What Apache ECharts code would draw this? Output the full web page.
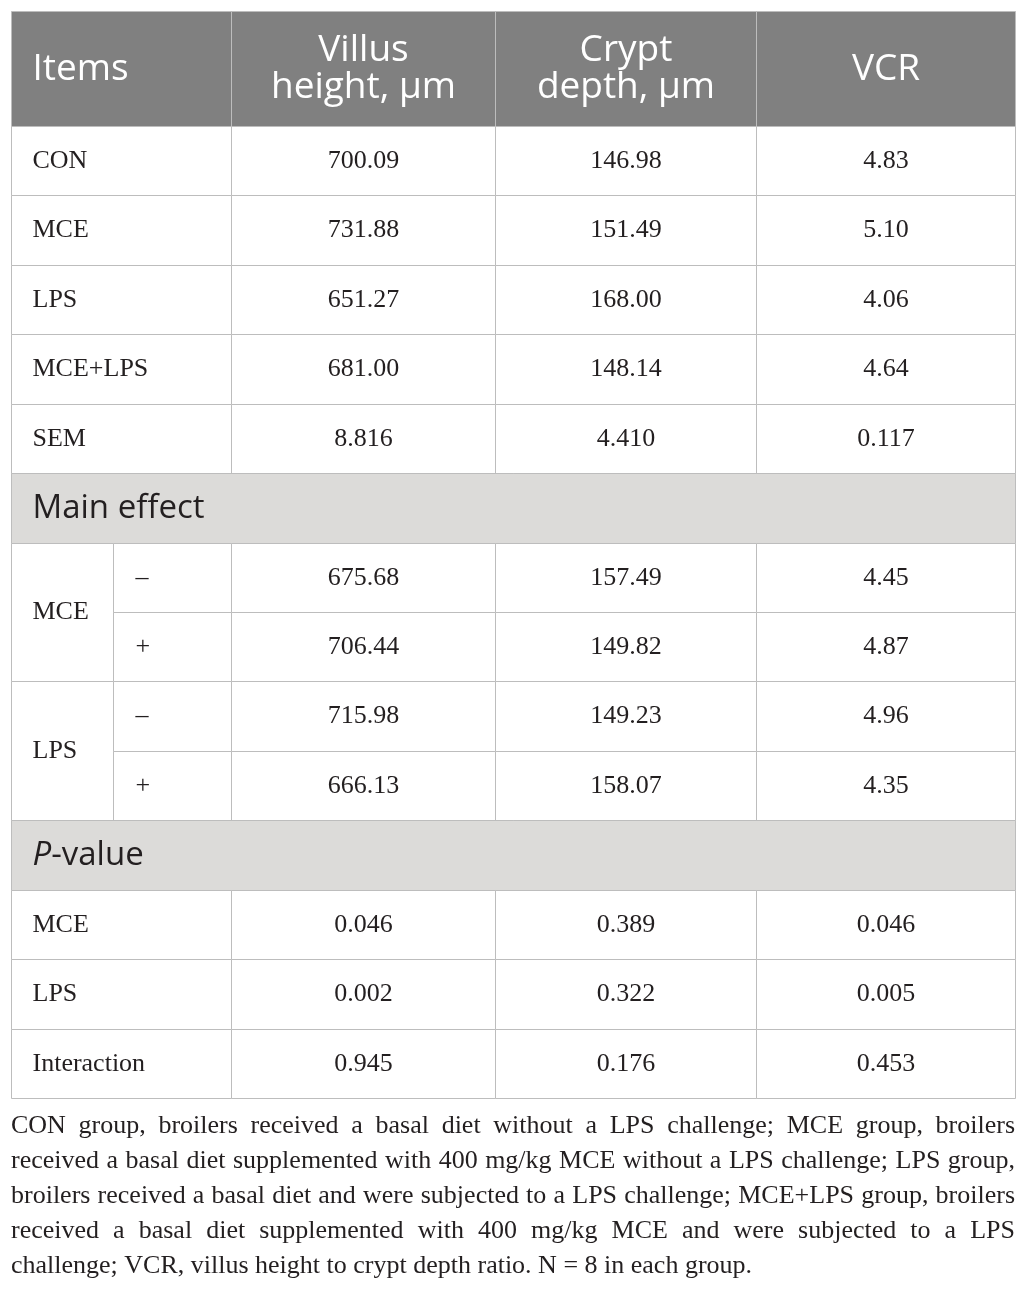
<!DOCTYPE html>
<html>
<head>
<meta charset="utf-8">
<script src="https://cdn.jsdelivr.net/npm/echarts@6/dist/echarts.min.js"></script>
<style>
  html, body { margin: 0; padding: 0; background: #fff; }
  #main { width: 1026px; height: 1293px; }
</style>
</head>
<body>
<div id="main"></div>
<script>
// table values, kept as printed (strings keep trailing zeros)
var headers = ['Items', 'Villus\nheight, μm', 'Crypt\ndepth, μm', 'VCR'];
var groups = ['CON', 'MCE', 'LPS', 'MCE+LPS', 'SEM'];
var villusHeight = ['700.09', '731.88', '651.27', '681.00', '8.816'];
var cryptDepth = ['146.98', '151.49', '168.00', '148.14', '4.410'];
var vcr = ['4.83', '5.10', '4.06', '4.64', '0.117'];

var mainFactors = ['MCE', 'LPS'];
var levels = ['–', '+'];
var mainVillus = ['675.68', '706.44', '715.98', '666.13'];
var mainCrypt = ['157.49', '149.82', '149.23', '158.07'];
var mainVcr = ['4.45', '4.87', '4.96', '4.35'];

var pItems = ['MCE', 'LPS', 'Interaction'];
var pVillus = ['0.046', '0.002', '0.945'];
var pCrypt = ['0.389', '0.322', '0.176'];
var pVcr = ['0.046', '0.005', '0.453'];

var sections = ['Main effect', '{i|P}-value'];

var footnote = [
    'CON group, broilers received a basal diet without a LPS challenge; MCE group, broilers',
    'received a basal diet supplemented with 400 mg/kg MCE without a LPS challenge; LPS group,',
    'broilers received a basal diet and were subjected to a LPS challenge; MCE+LPS group, broilers',
    'received a basal diet supplemented with 400 mg/kg MCE and were subjected to a LPS',
    'challenge; VCR, villus height to crypt depth ratio. N = 8 in each group.'
];

// layout of the table in axis units (pixels of the grid)
var tableW = 1004, tableH = 1087, headH = 115, nRows = 14;
var rowH = (tableH - headH) / nRows;
var colEdges = [0, 220, 484, 745, 1004];
var subEdge = 102;

function rowTop(i) { return headH + i * rowH; }

var cells = [];
function addCell(x0, y0, x1, y1, text, kind, align, pad) {
    cells.push({ box: [x0, y0, x1, y1], text: text, kind: kind, align: align || 'center', pad: pad || 0 });
}

headers.forEach(function (h, c) {
    addCell(colEdges[c], 0, colEdges[c + 1], headH, h, 'head', c === 0 ? 'left' : 'center', 21);
});

var valueCols = [villusHeight, cryptDepth, vcr];
groups.forEach(function (g, r) {
    addCell(colEdges[0], rowTop(r), colEdges[1], rowTop(r + 1), g, 'body', 'left', 21);
    valueCols.forEach(function (arr, c) {
        addCell(colEdges[c + 1], rowTop(r), colEdges[c + 2], rowTop(r + 1), arr[r], 'body');
    });
});

addCell(0, rowTop(5), tableW, rowTop(6), sections[0], 'section', 'left', 21);

var mainCols = [mainVillus, mainCrypt, mainVcr];
mainFactors.forEach(function (f, fi) {
    var r0 = 6 + fi * 2;
    addCell(colEdges[0], rowTop(r0), subEdge, rowTop(r0 + 2), f, 'body', 'left', 21);
    levels.forEach(function (lv, li) {
        var r = r0 + li, k = fi * 2 + li;
        addCell(subEdge, rowTop(r), colEdges[1], rowTop(r + 1), lv, 'body', 'left', 22);
        mainCols.forEach(function (arr, c) {
            addCell(colEdges[c + 1], rowTop(r), colEdges[c + 2], rowTop(r + 1), arr[k], 'body');
        });
    });
});

addCell(0, rowTop(10), tableW, rowTop(11), sections[1], 'section', 'left', 21);

var pCols = [pVillus, pCrypt, pVcr];
pItems.forEach(function (p, i) {
    var r = 11 + i;
    addCell(colEdges[0], rowTop(r), colEdges[1], rowTop(r + 1), p, 'body', 'left', 21);
    pCols.forEach(function (arr, c) {
        addCell(colEdges[c + 1], rowTop(r), colEdges[c + 2], rowTop(r + 1), arr[i], 'body');
    });
});

var styles = {
    head: { fill: '#808080', color: '#ffffff', font: '37px "Open Sans"', lineHeight: 37 },
    section: { fill: '#dcdbd9', color: '#231f20', font: '33px "Open Sans"', lineHeight: 38 },
    body: { fill: '#ffffff', color: '#231f20', font: '26px "Liberation Serif"', lineHeight: 30 }
};

function renderItem(params, api) {
    var c = cells[api.value(4)];
    var st = styles[c.kind];
    var p0 = api.coord([api.value(0), api.value(1)]);
    var p1 = api.coord([api.value(2), api.value(3)]);
    var x = Math.round(p0[0]) + 0.5, y = Math.round(p0[1]) + 0.5;
    var w = Math.round(p1[0]) - Math.round(p0[0]);
    var h = Math.round(p1[1]) - Math.round(p0[1]);
    return {
        type: 'group',
        children: [{
            type: 'rect',
            shape: { x: x, y: y, width: w, height: h },
            style: { fill: st.fill, stroke: '#bdbdbd', lineWidth: 1 }
        }, {
            type: 'text',
            x: c.align === 'left' ? x + c.pad : x + w / 2,
            y: y + h / 2,
            style: {
                text: c.text,
                font: st.font,
                fill: st.color,
                align: c.align,
                verticalAlign: 'middle',
                lineHeight: st.lineHeight,
                rich: {
                    i: { font: 'italic ' + st.font, fill: st.color, lineHeight: st.lineHeight }
                }
            }
        }]
    };
}

// footnote, justified like the printed caption
var noteFont = '26px "Liberation Serif"';
var noteLeft = 11, noteRight = 1015, noteTop = 1126, notePitch = 35;
var measureCtx = document.createElement('canvas').getContext('2d');
measureCtx.font = noteFont;
var noteGraphics = [];
footnote.forEach(function (line, li) {
    var words = line.split(' ');
    var widths = words.map(function (w) { return measureCtx.measureText(w).width; });
    var total = widths.reduce(function (a, b) { return a + b; }, 0);
    var gap = li < footnote.length - 1
        ? (noteRight - noteLeft - total) / (words.length - 1)
        : measureCtx.measureText(' ').width;
    var x = noteLeft;
    words.forEach(function (w, wi) {
        noteGraphics.push({
            type: 'text',
            x: x,
            y: noteTop + li * notePitch,
            style: { text: w, font: noteFont, fill: '#231f20', verticalAlign: 'middle' },
            silent: true
        });
        x += widths[wi] + gap;
    });
});

var chart = echarts.init(document.getElementById('main'), null, { renderer: 'canvas' });
chart.setOption({
    animation: false,
    backgroundColor: '#ffffff',
    grid: { left: 11, top: 11, width: tableW, height: tableH },
    xAxis: { type: 'value', min: 0, max: tableW, show: false },
    yAxis: { type: 'value', min: 0, max: tableH, inverse: true, show: false },
    graphic: noteGraphics,
    series: [{
        type: 'custom',
        renderItem: renderItem,
        silent: true,
        data: cells.map(function (c, i) { return c.box.concat([i]); })
    }]
});
</script>
</body>
</html>
